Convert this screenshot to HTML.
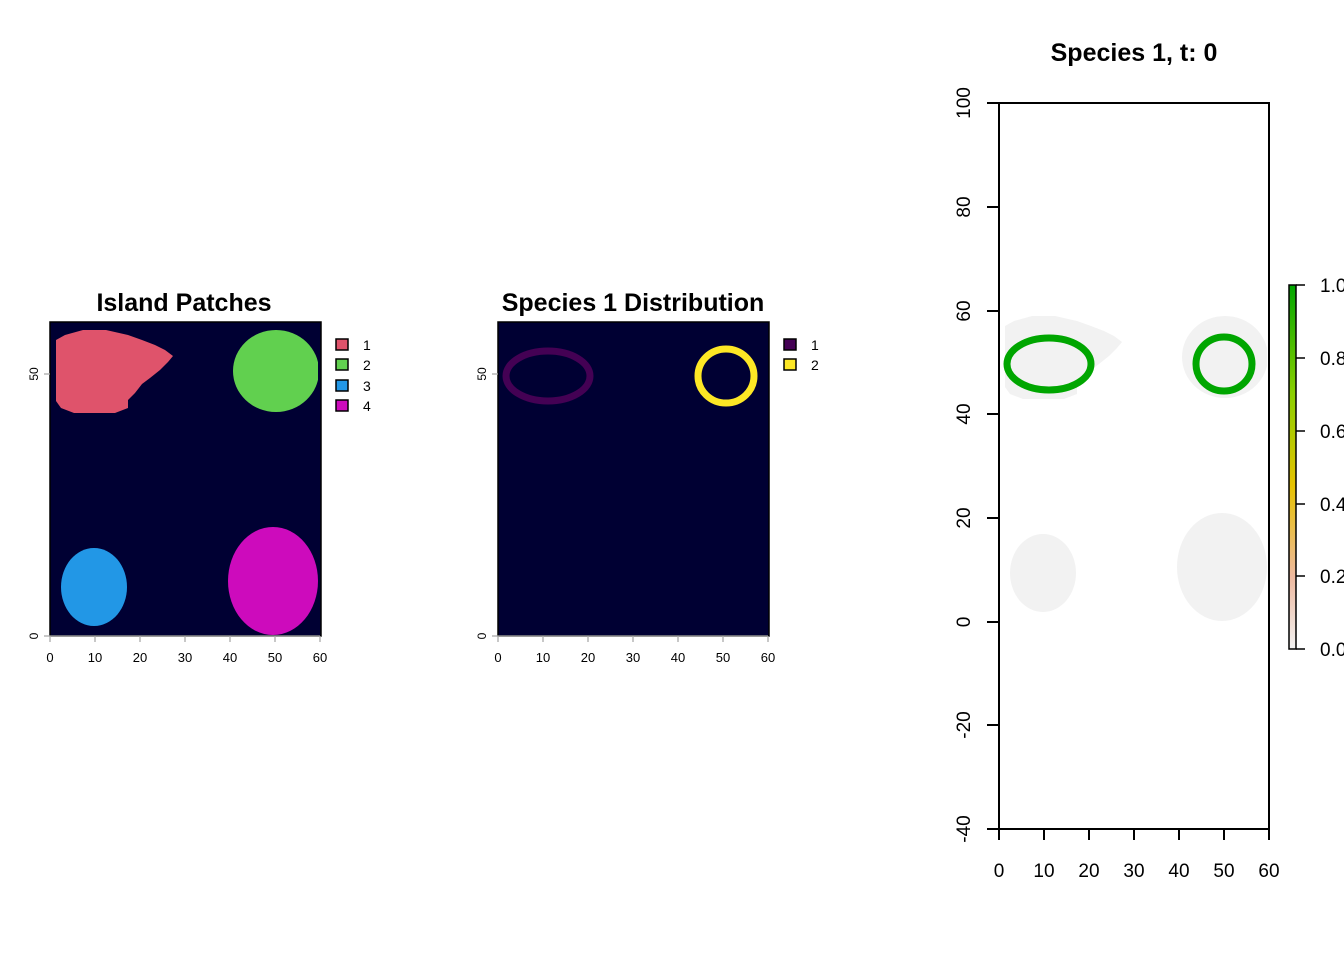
<!DOCTYPE html>
<html><head><style>body{margin:0;background:#fff}svg{display:block}text{font-family:"Liberation Sans",sans-serif}</style></head><body>
<svg width="1344" height="960" xmlns="http://www.w3.org/2000/svg">
<defs>
<clipPath id="c1"><rect x="50" y="322" width="268" height="314"/></clipPath>
<clipPath id="c3"><rect x="999" y="300" width="268" height="330"/></clipPath>
<linearGradient id="cb" x1="0" y1="1" x2="0" y2="0">
<stop offset="0" stop-color="#F2F2F2"/><stop offset="0.2" stop-color="#EEB99F"/><stop offset="0.45" stop-color="#E6C200"/><stop offset="0.7" stop-color="#8BCF00"/><stop offset="1" stop-color="#00A600"/>
</linearGradient>
</defs>
<!-- Panel 1 -->
<text x="184" y="311" font-size="25" font-weight="bold" text-anchor="middle">Island Patches</text>
<rect x="50" y="322" width="271" height="314" fill="#000033"/>
<g clip-path="url(#c1)">
<polygon fill="#DF536B" points="56,340 65,335 83,330 106,330 128,335 142,340 155,345 165,350 173,356 168,362 160,370 150,378 142,384 135,393 128,400 128,408 115,413 74,413 61,408 56,401"/>
<ellipse cx="276" cy="371" rx="43" ry="41" fill="#61D04F"/>
<ellipse cx="94" cy="587" rx="33" ry="39" fill="#2297E6"/>
<ellipse cx="273" cy="581" rx="45" ry="54" fill="#CD0BBC"/>
</g>
<rect x="50" y="322" width="271" height="314" fill="none" stroke="#000" stroke-width="1.5"/>
<g stroke="#aaa" stroke-width="1.3">
<line x1="50" y1="636" x2="320" y2="636"/><line x1="50" y1="636" x2="50" y2="642"/><line x1="95" y1="636" x2="95" y2="642"/><line x1="140" y1="636" x2="140" y2="642"/><line x1="185" y1="636" x2="185" y2="642"/><line x1="230" y1="636" x2="230" y2="642"/><line x1="275" y1="636" x2="275" y2="642"/><line x1="320" y1="636" x2="320" y2="642"/>
<line x1="44" y1="636" x2="50" y2="636"/><line x1="44" y1="374" x2="50" y2="374"/>
</g>
<g font-size="13" text-anchor="middle"><text x="50" y="662">0</text><text x="95" y="662">10</text><text x="140" y="662">20</text><text x="185" y="662">30</text><text x="230" y="662">40</text><text x="275" y="662">50</text><text x="320" y="662">60</text></g>
<text font-size="12" text-anchor="middle" transform="translate(38,636) rotate(-90)">0</text>
<text font-size="12" text-anchor="middle" transform="translate(38,374) rotate(-90)">50</text>
<g stroke="#000" stroke-width="1.5"><rect x="336" y="339" width="12" height="11" fill="#DF536B"/><rect x="336" y="359" width="12" height="11" fill="#61D04F"/><rect x="336" y="380" width="12" height="11" fill="#2297E6"/><rect x="336" y="400" width="12" height="11" fill="#CD0BBC"/></g>
<g font-size="14"><text x="363" y="350">1</text><text x="363" y="370">2</text><text x="363" y="391">3</text><text x="363" y="411">4</text></g>
<!-- Panel 2 -->
<text x="633" y="311" font-size="25" font-weight="bold" text-anchor="middle">Species 1 Distribution</text>
<rect x="498" y="322" width="271" height="314" fill="#000033" stroke="#000" stroke-width="1.5"/>
<ellipse cx="548" cy="376" rx="42" ry="25" fill="none" stroke="#440154" stroke-width="7"/>
<ellipse cx="726" cy="376" rx="28" ry="27" fill="none" stroke="#FDE725" stroke-width="7"/>
<g stroke="#aaa" stroke-width="1.3">
<line x1="498" y1="636" x2="768" y2="636"/><line x1="498" y1="636" x2="498" y2="642"/><line x1="543" y1="636" x2="543" y2="642"/><line x1="588" y1="636" x2="588" y2="642"/><line x1="633" y1="636" x2="633" y2="642"/><line x1="678" y1="636" x2="678" y2="642"/><line x1="723" y1="636" x2="723" y2="642"/><line x1="768" y1="636" x2="768" y2="642"/>
<line x1="492" y1="636" x2="498" y2="636"/><line x1="492" y1="374" x2="498" y2="374"/>
</g>
<g font-size="13" text-anchor="middle"><text x="498" y="662">0</text><text x="543" y="662">10</text><text x="588" y="662">20</text><text x="633" y="662">30</text><text x="678" y="662">40</text><text x="723" y="662">50</text><text x="768" y="662">60</text></g>
<text font-size="12" text-anchor="middle" transform="translate(486,636) rotate(-90)">0</text>
<text font-size="12" text-anchor="middle" transform="translate(486,374) rotate(-90)">50</text>
<g stroke="#000" stroke-width="1.5"><rect x="784" y="339" width="12" height="11" fill="#440154"/><rect x="784" y="359" width="12" height="11" fill="#FDE725"/></g>
<g font-size="14"><text x="811" y="350">1</text><text x="811" y="370">2</text></g>
<!-- Panel 3 -->
<text x="1134" y="61" font-size="25" font-weight="bold" text-anchor="middle">Species 1, t: 0</text>
<g clip-path="url(#c3)" fill="#F2F2F2">
<g transform="translate(949,-14)">
<polygon points="56,340 65,335 83,330 106,330 128,335 142,340 155,345 165,350 173,356 168,362 160,370 150,378 142,384 135,393 128,400 128,408 115,413 74,413 61,408 56,401"/>
<ellipse cx="276" cy="371" rx="43" ry="41"/>
<ellipse cx="94" cy="587" rx="33" ry="39"/>
<ellipse cx="273" cy="581" rx="45" ry="54"/>
</g>
</g>
<ellipse cx="1049" cy="364" rx="42" ry="26" fill="none" stroke="#00A600" stroke-width="7"/>
<ellipse cx="1224" cy="364" rx="28" ry="27" fill="none" stroke="#00A600" stroke-width="7"/>
<rect x="999" y="103" width="270" height="726" fill="none" stroke="#000" stroke-width="2"/>
<g stroke="#000" stroke-width="2">
<line x1="999" y1="829" x2="999" y2="840"/><line x1="1044" y1="829" x2="1044" y2="840"/><line x1="1089" y1="829" x2="1089" y2="840"/><line x1="1134" y1="829" x2="1134" y2="840"/><line x1="1179" y1="829" x2="1179" y2="840"/><line x1="1224" y1="829" x2="1224" y2="840"/><line x1="1269" y1="829" x2="1269" y2="840"/>
<line x1="987" y1="103" x2="999" y2="103"/><line x1="987" y1="207" x2="999" y2="207"/><line x1="987" y1="311" x2="999" y2="311"/><line x1="987" y1="414" x2="999" y2="414"/><line x1="987" y1="518" x2="999" y2="518"/><line x1="987" y1="622" x2="999" y2="622"/><line x1="987" y1="725" x2="999" y2="725"/><line x1="987" y1="829" x2="999" y2="829"/>
</g>
<g font-size="19" text-anchor="middle"><text x="999" y="877">0</text><text x="1044" y="877">10</text><text x="1089" y="877">20</text><text x="1134" y="877">30</text><text x="1179" y="877">40</text><text x="1224" y="877">50</text><text x="1269" y="877">60</text></g>
<g font-size="19" text-anchor="middle">
<text transform="translate(970,103) rotate(-90)">100</text>
<text transform="translate(970,207) rotate(-90)">80</text>
<text transform="translate(970,311) rotate(-90)">60</text>
<text transform="translate(970,414) rotate(-90)">40</text>
<text transform="translate(970,518) rotate(-90)">20</text>
<text transform="translate(970,622) rotate(-90)">0</text>
<text transform="translate(970,725) rotate(-90)">-20</text>
<text transform="translate(970,829) rotate(-90)">-40</text>
</g>
<rect x="1289" y="285" width="7" height="364" fill="url(#cb)" stroke="#000" stroke-width="1.5"/>
<g stroke="#000" stroke-width="1.5"><line x1="1296" y1="285" x2="1305" y2="285"/><line x1="1296" y1="358" x2="1305" y2="358"/><line x1="1296" y1="431" x2="1305" y2="431"/><line x1="1296" y1="504" x2="1305" y2="504"/><line x1="1296" y1="576" x2="1305" y2="576"/><line x1="1296" y1="649" x2="1305" y2="649"/></g>
<g font-size="19"><text x="1320" y="292">1.0</text><text x="1320" y="365">0.8</text><text x="1320" y="438">0.6</text><text x="1320" y="511">0.4</text><text x="1320" y="583">0.2</text><text x="1320" y="656">0.0</text></g>
</svg>
</body></html>
